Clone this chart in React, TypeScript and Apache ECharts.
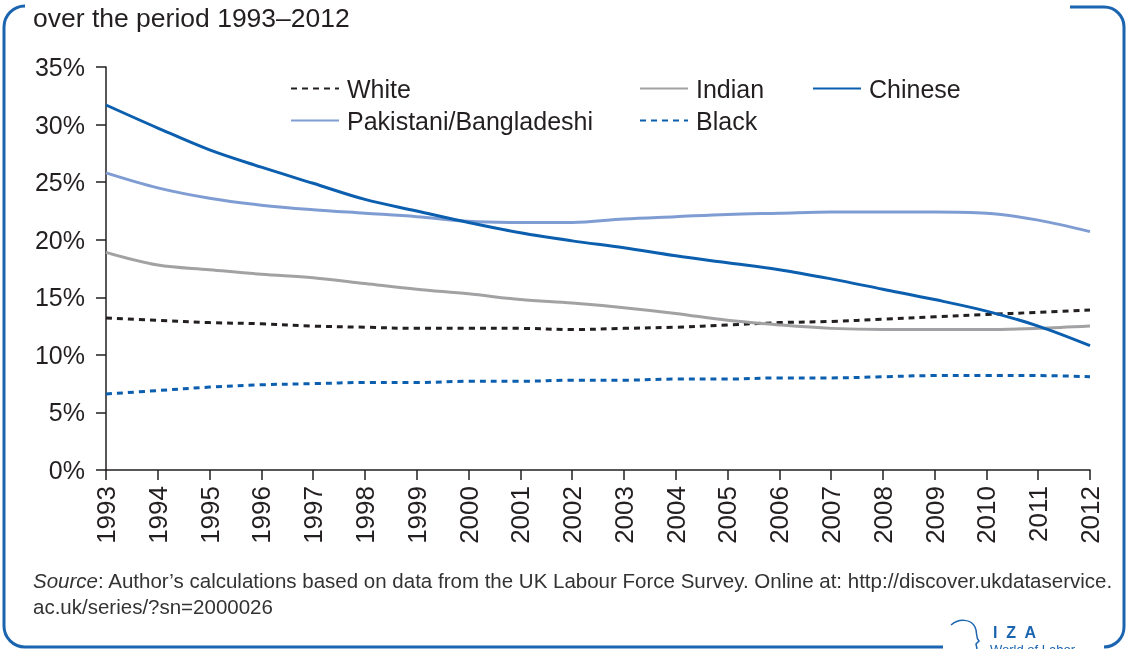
import React, { useEffect, useRef } from "react";
import * as echarts from "echarts";

const years = ["1993","1994","1995","1996","1997","1998","1999","2000","2001","2002","2003","2004","2005","2006","2007","2008","2009","2010","2011","2012"];
const white = [13.2,13.0,12.8,12.7,12.5,12.4,12.3,12.3,12.3,12.2,12.3,12.4,12.6,12.8,12.9,13.1,13.3,13.5,13.7,13.9];
const indian = [18.9,17.8,17.4,17.0,16.7,16.2,15.7,15.3,14.8,14.5,14.1,13.6,13.0,12.6,12.3,12.2,12.2,12.2,12.3,12.5];
const chinese = [31.7,29.7,27.8,26.3,24.9,23.5,22.5,21.5,20.6,19.9,19.3,18.6,18.0,17.4,16.6,15.7,14.8,13.8,12.5,10.8];
const pakistani = [25.8,24.5,23.6,23.0,22.6,22.3,22.0,21.6,21.5,21.5,21.8,22.0,22.2,22.3,22.4,22.4,22.4,22.3,21.7,20.7];
const black = [6.6,6.9,7.2,7.4,7.5,7.6,7.6,7.7,7.7,7.8,7.8,7.9,7.9,8.0,8.0,8.1,8.2,8.2,8.2,8.1];
const yTicks = [0, 5, 10, 15, 20, 25, 30, 35];

const FONT = "Liberation Sans";
const TEXT = "#231f20";
const DARKBLUE = "#0b5fae";
const LIGHTBLUE = "#7f9dd3";
const GRAY = "#a2a2a4";
const FRAME = "#1a64b0";

echarts.graphic.registerShape(
  "logo",
  (echarts.graphic as any).extendPath(
    "M 0 6 C 8 -1, 20 0, 24 8 C 27 14, 24 18, 28 22 L 25 25 L 26 30",
    {}
  )
);

export default function App() {
  const ref = useRef<HTMLDivElement>(null);
  useEffect(() => {
    const chart = echarts.init(ref.current!, null, { renderer: "svg" });
    const mk = (name: string, data: number[], color: string, dashed: boolean, width = 3) => ({
      name,
      type: "line",
      data,
      smooth: 0.35,
      symbol: "none",
      showSymbol: false,
      lineStyle: { color, width, type: dashed ? [6, 5] : "solid" },
      itemStyle: { color },
    });
    const legendItem = (name: string, left: number, top: number) => ({
      data: [name],
      left,
      top,
      padding: 0,
      itemWidth: 48,
      itemHeight: 14,
      itemGap: 0,
      itemStyle: { opacity: 0 },
      textStyle: { fontFamily: FONT, fontSize: 25, color: TEXT, padding: [0, 0, 0, 3] },
    });
    const option: any = {
      animation: false,
      grid: { left: 106, right: 37, top: 67, bottom: 179, containLabel: false },
      legend: [
        legendItem("White", 290, 76),
        legendItem("Indian", 639, 76),
        legendItem("Chinese", 812, 76),
        legendItem("Pakistani/Bangladeshi", 290, 108),
        legendItem("Black", 639, 108),
      ],
      xAxis: {
        type: "category",
        data: years,
        boundaryGap: false,
        axisLine: { lineStyle: { color: TEXT, width: 1.5 } },
        axisTick: { show: true, length: 10, alignWithLabel: true, lineStyle: { color: TEXT, width: 1.5 } },
        axisLabel: { rotate: 90, margin: 16, fontFamily: FONT, fontSize: 26, color: TEXT, interval: 0 },
        splitLine: { show: false },
      },
      yAxis: {
        type: "value",
        min: yTicks[0],
        max: yTicks[yTicks.length - 1],
        interval: 5,
        axisLine: { show: true, lineStyle: { color: TEXT, width: 1.5 } },
        axisTick: { show: true, length: 10, lineStyle: { color: TEXT, width: 1.5 } },
        axisLabel: { formatter: "{value}%", margin: 21, fontFamily: FONT, fontSize: 25, color: TEXT },
        splitLine: { show: false },
      },
      series: [
        mk("White", white, TEXT, true),
        mk("Pakistani/Bangladeshi", pakistani, LIGHTBLUE, false),
        mk("Indian", indian, GRAY, false),
        mk("Black", black, DARKBLUE, true),
        mk("Chinese", chinese, DARKBLUE, false),
      ],
      graphic: [
        { type: "text", left: 33, top: 4, style: { text: "over the period 1993–2012", fontFamily: FONT, fontSize: 26.5, fill: TEXT } },
        {
          type: "text",
          left: 33,
          top: 567,
          style: {
            text: "{i|Source}: Author’s calculations based on data from the UK Labour Force Survey. Online at: http://discover.ukdataservice.\nac.uk/series/?sn=2000026",
            fontFamily: FONT,
            fontSize: 20.5,
            lineHeight: 26,
            fill: "#333333",
            rich: { i: { fontStyle: "italic", fontFamily: FONT, fontSize: 20.5, fill: "#333333" } },
          },
        },
        { type: "arc", shape: { cx: 25, cy: 27, r: 21, startAngle: Math.PI, endAngle: Math.PI * 1.5, clockwise: true }, style: { stroke: FRAME, lineWidth: 3, fill: null } },
        { type: "line", shape: { x1: 4, y1: 27, x2: 4, y2: 626 }, style: { stroke: FRAME, lineWidth: 3 } },
        { type: "arc", shape: { cx: 25, cy: 626, r: 21, startAngle: Math.PI * 0.5, endAngle: Math.PI, clockwise: true }, style: { stroke: FRAME, lineWidth: 3, fill: null } },
        { type: "line", shape: { x1: 25, y1: 647, x2: 943, y2: 647 }, style: { stroke: FRAME, lineWidth: 3 } },
        { type: "line", shape: { x1: 1070, y1: 7, x2: 1104, y2: 7 }, style: { stroke: FRAME, lineWidth: 3 } },
        { type: "arc", shape: { cx: 1104, cy: 27, r: 20, startAngle: Math.PI * 1.5, endAngle: Math.PI * 2, clockwise: true }, style: { stroke: FRAME, lineWidth: 3, fill: null } },
        { type: "line", shape: { x1: 1124, y1: 27, x2: 1124, y2: 627 }, style: { stroke: FRAME, lineWidth: 3 } },
        { type: "arc", shape: { cx: 1104, cy: 627, r: 20, startAngle: 0, endAngle: Math.PI * 0.5, clockwise: true }, style: { stroke: FRAME, lineWidth: 3, fill: null } },
        { type: "logo", x: 951, y: 619, scaleX: 1, scaleY: 1, style: { stroke: FRAME, lineWidth: 1.5, fill: null } },
        { type: "text", left: 993, top: 624, style: { text: "I  Z  A", fontFamily: FONT, fontSize: 16, fontWeight: "bold", fill: FRAME } },
        { type: "text", left: 990, top: 643, style: { text: "World of Labor", fontFamily: FONT, fontSize: 13, fill: FRAME } },
      ],
    };
    chart.setOption(option);
    return () => chart.dispose();
  }, []);
  return <div ref={ref} style={{ position: "fixed", left: 0, top: 0, width: 1127, height: 649 }} />;
}
